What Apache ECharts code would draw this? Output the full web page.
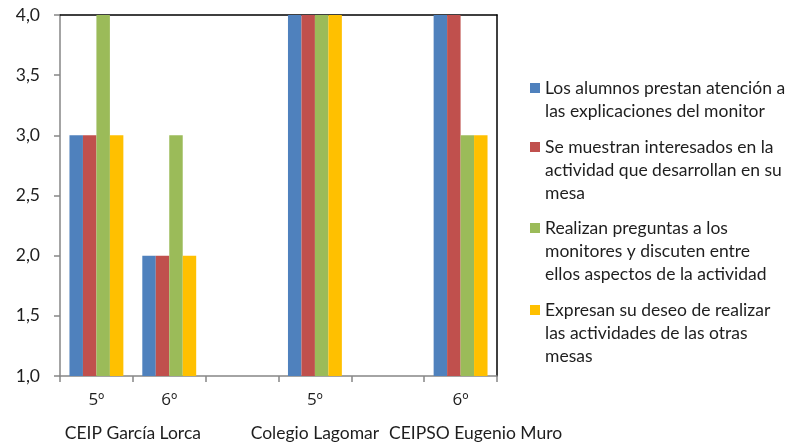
<!DOCTYPE html>
<html>
<head>
<meta charset="utf-8">
<script src="https://cdn.jsdelivr.net/npm/echarts@6/dist/echarts.min.js"></script>
<style>html,body{margin:0;padding:0;background:#fff}#c{width:791px;height:443px}</style>
</head>
<body>
<div id="c"></div>
<script>
const categories = ['5º', '6º', '', '5º', '', '6º'];
const groupLabels = ['CEIP García Lorca', 'Colegio Lagomar', 'CEIPSO Eugenio Muro'];
const seriesNames = [
  'Los alumnos prestan atención a\nlas explicaciones del monitor',
  'Se muestran interesados en la\nactividad que desarrollan en su\nmesa',
  'Realizan preguntas a los\nmonitores y discuten entre\nellos aspectos de la actividad',
  'Expresan su deseo de realizar\nlas actividades de las otras\nmesas'
];
const atencion = [3, 2, null, 4, null, 4];
const interesados = [3, 2, null, 4, null, 4];
const preguntas = [4, 3, null, 4, null, 3];
const deseo = [3, 2, null, 4, null, 3];
const yTicks = [1, 1.5, 2, 2.5, 3, 3.5, 4];

const colors = ['#4F81BD', '#C0504D', '#9BBB59', '#FFC000'];
const values = [atencion, interesados, preguntas, deseo];
const font = 'Lato';
const txt = '#1e1e1e';

// group label axis: 13 points (boundaries and centers of 6 slots)
const groupPos = [2, 7, 11];
const groupAxis = new Array(13).fill('');
groupPos.forEach((p, i) => groupAxis[p] = groupLabels[i]);

const chart = echarts.init(document.getElementById('c'));
const LH = 23;
const legendTops = [76.5, 135.5, 216.5, 298.5];
const legends = seriesNames.map((n, i) => {
  const lines = n.split('\n').length;
  const H = lines * LH;
  const a = LH / 2 - 5, b = LH / 2 + 5;
  const icon = 'path://M0,0L0,0ZM0,' + H + 'L0,' + H + 'ZM0,' + a + 'L10,' + a + 'L10,' + b + 'L0,' + b + 'Z';
  return {
    data: [{name: n, icon: icon}], left: 530, top: legendTops[i], orient: 'vertical', padding: 0,
    itemWidth: 10, itemHeight: H, selectedMode: false, itemGap: 0,
    textStyle: {fontFamily: font, fontSize: 17.5, lineHeight: LH, color: txt}
  };
});

chart.setOption({
  animation: false,
  backgroundColor: '#fff',
  color: colors,
  legend: legends,
  grid: {left: 60, right: 294, top: 15, bottom: 67, containLabel: false},
  xAxis: [{
    type: 'category', data: categories, position: 'bottom',
    axisLine: {lineStyle: {color: '#868686', width: 1.5}},
    axisTick: {show: true, interval: 0, length: 6, lineStyle: {color: '#868686', width: 1.5}},
    axisLabel: {interval: 0, margin: 16, fontFamily: 'Open Sans', fontSize: 17, color: txt}
  }, {
    type: 'category', data: groupAxis, position: 'bottom', boundaryGap: false,
    axisLine: {show: false}, axisTick: {show: false},
    axisLabel: {interval: 0, margin: 48, fontFamily: font, fontSize: 17.5, color: txt,
      formatter: v => v === groupLabels[2] ? '{m|' + v + '}' : v,
      rich: {m: {fontFamily: font, fontSize: 17.5, color: txt, padding: [0, 0, 0, 30]}}}
  }, {
    type: 'category', data: categories, position: 'top',
    axisLine: {lineStyle: {color: '#000', width: 1.5}}, axisTick: {show: false}, axisLabel: {show: false}
  }],
  yAxis: [{
    type: 'value', min: yTicks[0], max: yTicks[yTicks.length - 1], interval: 0.5,
    axisLine: {show: true, lineStyle: {color: '#868686', width: 1.5}},
    axisTick: {show: true, length: 6, lineStyle: {color: '#868686', width: 1.5}},
    splitLine: {show: false},
    axisLabel: {margin: 20, fontFamily: font, fontSize: 17.5, color: txt,
      formatter: v => v.toFixed(1).replace('.', ',')}
  }, {
    type: 'value', min: yTicks[0], max: yTicks[yTicks.length - 1], position: 'right',
    axisLine: {show: true, lineStyle: {color: '#000', width: 1.5}},
    axisTick: {show: false}, axisLabel: {show: false}, splitLine: {show: false}
  }],
  series: seriesNames.map((n, i) => ({
    name: n, type: 'bar', data: values[i], xAxisIndex: 0, yAxisIndex: 0,
    barGap: '0%', barCategoryGap: '26%', itemStyle: {color: colors[i]}
  }))
});
</script>
</body>
</html>
